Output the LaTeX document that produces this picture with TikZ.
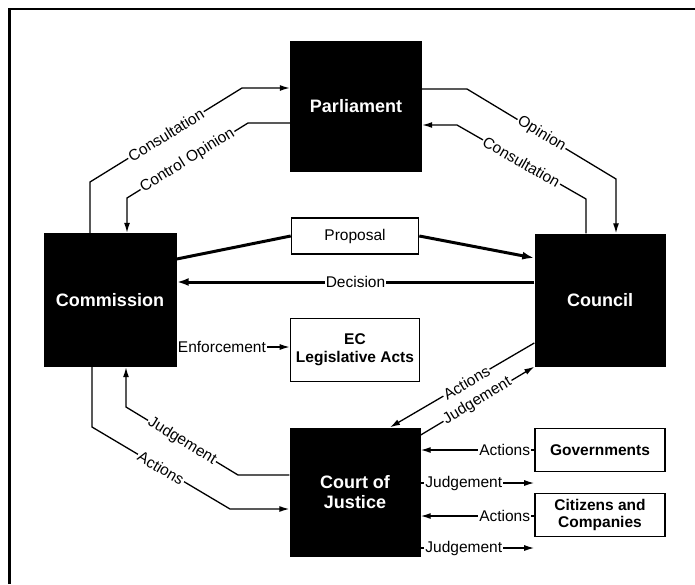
\documentclass[tikz,border=0pt]{standalone}
\usepackage{fontspec}
\setmainfont{Liberation Sans}
\usepackage{tikz}
\usetikzlibrary{arrows.meta,positioning}

\begin{document}
\begin{tikzpicture}[
    x=1pt, y=-1pt,
    bignode/.style={rectangle, fill=black, text=white, inner sep=0pt, align=center,
        font=\bfseries\fontsize{18}{20}\selectfont},
    boxnode/.style={rectangle, draw, line width=1.6pt, fill=white, inner sep=0pt, align=center,
        font=\bfseries\fontsize{15.5}{17}\selectfont},
    lbl/.style={fill=white, inner sep=1.2pt, font=\fontsize{15.5}{17}\selectfont},
    edge/.style={-{Latex[length=10pt,width=6pt]}, line width=1.3pt},
    plain/.style={line width=1.3pt},
    thickedge/.style={-{Latex[length=12pt,width=8pt]}, line width=3pt},
]
    \useasboundingbox (0,0) rectangle (695,584);

    % Frame
    \draw[line width=2.2pt] (9.5,584) -- (9.5,9) -- (695,9);

    % Institutions
    \node[bignode, minimum width=132, minimum height=131] (parl) at (356,106) {Parliament};
    \node[bignode, minimum width=133, minimum height=134] (comm) at (110,300) {Commission};
    \node[bignode, minimum width=131, minimum height=133] (coun) at (600,300) {Council};
    \node[bignode, minimum width=131, minimum height=129] (court) at (355,492) {Court of\\Justice};

    % Other boxes
    \node[boxnode, minimum width=127, minimum height=36, font=\fontsize{15.5}{17}\selectfont] (prop) at (355,236) {Proposal};
    \node[boxnode, minimum width=129, minimum height=63, font=\bfseries\fontsize{15.5}{18}\selectfont] (ec) at (355,350) {EC\\Legislative Acts};
    \node[boxnode, minimum width=130, minimum height=43] (gov) at (600,450) {Governments};
    \node[boxnode, minimum width=130, minimum height=43] (cit) at (600,515) {Citizens and\\Companies};

    % Commission - Parliament
    \draw[edge] (comm.north -| 90,0) -- (90,182) -- node[lbl, sloped] {Consultation} (242,88) -- (parl.west |- 0,88);
    \draw[edge] (parl.west |- 0,123) -- (248,123) -- node[lbl, sloped] {Control Opinion} (127,198) -- (comm.north -| 127,0);

    % Parliament - Council
    \draw[edge] (parl.east |- 0,89) -- (467,89) -- node[lbl, sloped] {Opinion} (616,179) -- (coun.north -| 616,0);
    \draw[edge] (coun.north -| 586,0) -- (586,199) -- node[lbl, sloped] {Consultation} (457,125) -- (parl.east |- 0,125);

    % Proposal and decision
    \draw[line width=3pt] (comm.east |- 0,259) -- (prop.west);
    \draw[thickedge] (prop.east) -- (coun.west |- 0,258);
    \draw[thickedge] (coun.west |- 0,282) -- node[lbl] {Decision} (comm.east |- 0,282);

    % Enforcement
    \draw[edge] (comm.east |- 0,347) -- node[lbl, pos=0.4] {Enforcement} (ec.west |- 0,347);

    % Commission - Court
    \draw[edge] (comm.south -| 92,0) -- (92,427) -- node[lbl, sloped] {Actions} (230,509) -- (court.west |- 0,509);
    \draw[edge] (court.west |- 0,475) -- (238,475) -- node[lbl, sloped] {Judgement} (126,407) -- (comm.south -| 126,0);

    % Council - Court
    \draw[edge] (coun.west |- 0,343) -- node[lbl, sloped, pos=0.47] {Actions} (court.north -| 390,0);
    \draw[edge] (court.east |- 0,435) -- node[lbl, sloped] {Judgement} (coun.south west);

    % Governments, citizens and companies
    \draw[edge] (gov.west) -- node[lbl, pos=0.26] {Actions} (court.east |- gov.west);
    \draw[edge] (court.east |- 0,483) -- node[lbl, pos=0.38] {Judgement} (gov.west |- 0,483);
    \draw[edge] (cit.west |- 0,516) -- node[lbl, pos=0.26] {Actions} (court.east |- 0,516);
    \draw[edge] (court.east |- 0,548) -- node[lbl, pos=0.38] {Judgement} (cit.west |- 0,548);
\end{tikzpicture}
\end{document}
